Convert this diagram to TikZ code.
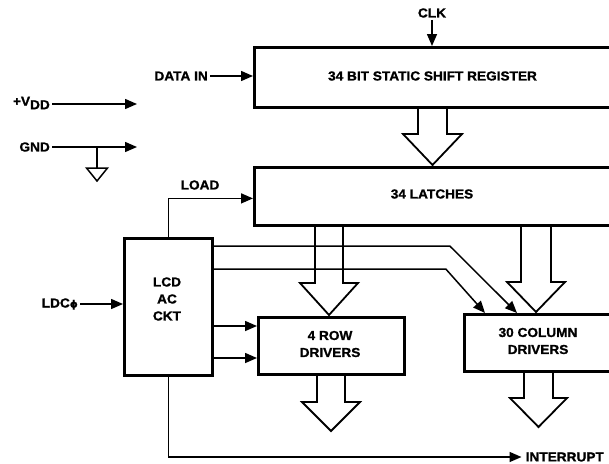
\documentclass[tikz,border=0pt]{standalone}
\usepackage{fontspec}
\setmainfont{Liberation Sans}[FakeStretch=1.05,FakeBold=1.2]
\newfontfamily\dvfont{DejaVu Sans}[FakeBold=1.2]
\usetikzlibrary{arrows.meta,calc}
\newcommand\hollowarr[6]{% x, ytop, ybase, ytip, shaft half, head half
  \draw[hollow] ({#1-#5},{#2}) -- ({#1-#5},{#3}) -- ({#1-#6},{#3}) -- ({#1},{#4})
    -- ({#1+#6},{#3}) -- ({#1+#5},{#3}) -- ({#1+#5},{#2});}
\begin{document}
\begin{tikzpicture}[x=1pt,y=-1pt,
  font=\bfseries\fontsize{13}{17}\selectfont,
  box/.style={draw, line width=2.8pt, rectangle, inner sep=0pt, anchor=north west},
  lbl/.style={inner sep=2pt},
  line/.style={line width=1.5pt},
  conn/.style={line width=1.5pt, -{Triangle[length=12pt,width=10pt]}},
  hollow/.style={line width=1.8pt, line join=miter}]
\useasboundingbox (0,0) rectangle (609,463);
\clip (0,0) rectangle (609,463);

% boxes
\node[box, minimum width=359pt, minimum height=60pt] (sr) at (253,46) {};
\node at (432.5,76) {34 BIT STATIC SHIFT REGISTER};
\node[box, minimum width=359pt, minimum height=58pt] (lat) at (253,166) {};
\node at (432,194) {34 LATCHES};
\node[box, minimum width=88pt, minimum height=137pt] (lcd) at (123,237) {};
\node[align=center] (lcdtxt) at (167,299) {LCD\\AC\\CKT};
\node[box, minimum width=146pt, minimum height=57pt] (row) at (257,316) {};
\node[align=center] (rowtxt) at (330,344) {4 ROW\\DRIVERS};
\node[box, minimum width=149pt, minimum height=57pt] (col) at (463,313) {};
\node[align=center] (coltxt) at (538,341) {30 COLUMN\\DRIVERS};

% labels
\node[lbl] (clk) at (432,13) {CLK};
\draw[conn] (clk.south) -- (clk.south |- sr.north);
\node[lbl, anchor=east] (din) at (210,76) {DATA IN};
\draw[conn] (din.east) -- (din.east -| sr.west);

\node[lbl, anchor=east] (vdd) at (52,103) {+V\raisebox{-3.5pt}{DD}};
\coordinate (vddend) at (137,104);
\draw[conn] (vdd.east |- vddend) -- (vddend);
\node[lbl, anchor=east] (gnd) at (52,147) {GND};
\coordinate (gndend) at (137,147);
\draw[conn] (gnd.east) -- (gndend);
\coordinate (gj) at (97,147);
\coordinate (gb) at (97,168);
\draw[line] (gj) -- (gb);
\draw[line] ([xshift=-10.5pt]gb) -- ([xshift=10.5pt]gb) -- ([yshift=-13pt]gb) -- cycle;

\node[lbl, anchor=east] (ldc) at (80,304) {LDC{\dvfont\fontsize{10}{12}\selectfont ϕ}};
\draw[conn] (ldc.east) -- (ldc.east -| lcd.west);

\node[lbl] (loadlbl) at (200,185) {LOAD};
\draw[conn] (lcd.north) |- ([yshift=-2pt]lat.west);

% control lines to column drivers
\draw[conn] ([yshift=-9pt]lcd.north east) -- ++(236,0) -- ([xshift=54pt]col.north west);
\draw[conn] ([yshift=-32pt]lcd.north east) -- ++(232,0) -- ([xshift=22pt]col.north west);

% control lines to row drivers
\draw[conn] ([yshift=-89pt]lcd.north east) -- ([yshift=-89pt]lcd.north east -| row.west);
\draw[conn] ([yshift=-121pt]lcd.north east) -- ([yshift=-121pt]lcd.north east -| row.west);

% interrupt
\node[lbl, anchor=east, inner sep=1pt] (intr) at (605,457) {INTERRUPT};
\draw[conn] (lcd.south) |- ([xshift=-3pt]intr.west);

% hollow bus arrows
\hollowarr{432.5}{106}{134}{165}{14.5}{29.5}
\hollowarr{329}{224}{283}{315}{14}{29}
\hollowarr{536}{224}{282}{312}{15}{29}
\hollowarr{331}{373}{402}{431}{14}{29}
\hollowarr{538.5}{370}{398}{427}{14.5}{28.5}
\end{tikzpicture}
\end{document}
